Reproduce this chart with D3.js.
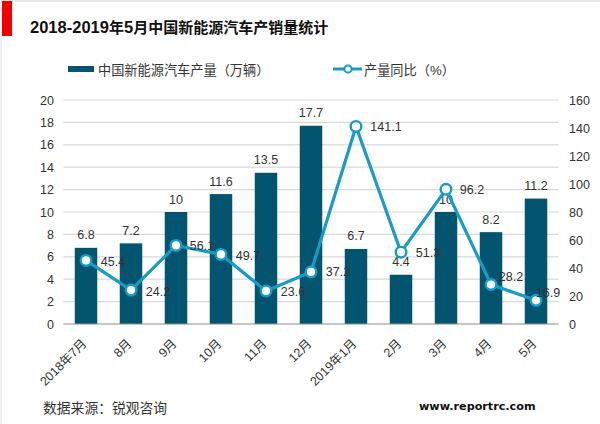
<!DOCTYPE html>
<html><head><meta charset="utf-8">
<script src="https://cdn.jsdelivr.net/npm/d3@7/dist/d3.min.js"></script>
<style>html,body{margin:0;padding:0;background:#fff}svg{display:block}text{font-family:"Liberation Sans","Noto Sans CJK SC",sans-serif}</style>
</head><body><svg id="c" width="600" height="424"></svg>
<script>
const categories=["2018年7月","8月","9月","10月","11月","12月","2019年1月","2月","3月","4月","5月"];
const output=[6.8,7.2,10,11.6,13.5,17.7,6.7,4.4,10,8.2,11.2];
const yoy=[45.4,24.2,56.1,49.7,23.6,37.2,141.1,51.3,96.2,28.2,16.9];
const leftTicks=[0,2,4,6,8,10,12,14,16,18,20];
const rightTicks=[0,20,40,60,80,100,120,140,160];
const yoyLabelOffsets=[[27,1],[27,1],[26,0],[27,1],[27,1],[27,0],[30,0],[27,0],[26,0],[20,-8],[12,-8]];
const titleParts=[["2018-2019",16.5],["年",15],["5",16.5],["月中国新能源汽车产销量统计",15]];
const svg=d3.select("#c");
const bar="#03556f",line="#169cc7",txt="#333",fs=12.5;
svg.append("rect").attr("x",0).attr("y",0).attr("width",600).attr("height",2).attr("fill","#e8e8e8");
svg.append("rect").attr("x",0).attr("y",0).attr("width",2).attr("height",424).attr("fill","#f0f0f0");
svg.append("rect").attr("x",2).attr("y",1).attr("width",10).attr("height",35).attr("fill","#f00000");
svg.append("text").attr("x",30).attr("y",33).attr("font-weight","bold").attr("fill","#111")
 .selectAll("tspan").data(titleParts).join("tspan").attr("font-size",d=>d[1]).text(d=>d[0]);
const x=d3.scaleBand().domain(categories).range([63.5,558.5]).paddingInner(0.5).paddingOuter(0.25);
const yL=d3.scaleLinear().domain([0,20]).range([324,100]);
const yR=d3.scaleLinear().domain([0,160]).range([324,100]);
const cx=d=>x(d)+x.bandwidth()/2;
// gridlines
svg.append("g").selectAll("line").data(leftTicks.slice(1)).join("line")
 .attr("x1",63.5).attr("x2",558.5).attr("y1",d=>yL(d)).attr("y2",d=>yL(d)).attr("stroke","#d9d9d9").attr("stroke-width",1.2);
// bars
svg.append("g").selectAll("rect").data(categories).join("rect")
 .attr("x",d=>x(d)).attr("width",x.bandwidth()).attr("y",(d,i)=>yL(output[i])).attr("height",(d,i)=>324-yL(output[i])).attr("fill",bar);
// baseline
svg.append("line").attr("x1",63.5).attr("x2",558.5).attr("y1",324).attr("y2",324).attr("stroke","#8c8c8c").attr("stroke-width",1);
// axes labels
const la=svg.append("g").attr("transform","translate(54,0)").call(d3.axisLeft(yL).tickValues(leftTicks).tickSize(0).tickPadding(0));
la.select(".domain").remove();
la.selectAll("text").attr("font-size",fs).attr("fill",txt).attr("font-family",null);
const ra=svg.append("g").attr("transform","translate(569,0)").call(d3.axisRight(yR).tickValues(rightTicks).tickSize(0).tickPadding(0));
ra.select(".domain").remove();
ra.selectAll("text").attr("font-size",fs).attr("fill",txt).attr("font-family",null);
// x labels
svg.append("g").selectAll("text").data(categories).join("text")
 .attr("transform",d=>`translate(${cx(d)-1.7},${341.2}) rotate(-45)`).attr("text-anchor","end").attr("font-size",fs).attr("fill",txt).attr("dy","0.35em").text(d=>d);
// bar labels
svg.append("g").selectAll("text").data(categories).join("text")
 .attr("x",d=>cx(d)).attr("y",(d,i)=>yL(output[i])-8.5).attr("text-anchor","middle").attr("font-size",fs).attr("fill",txt).text((d,i)=>output[i]);
// line
const gen=d3.line().x(d=>cx(d)).y((d,i)=>yR(yoy[i]));
svg.append("path").attr("d",gen(categories)).attr("fill","none").attr("stroke",line).attr("stroke-width",3.2).attr("stroke-linejoin","round");
svg.append("g").selectAll("circle").data(categories).join("circle")
 .attr("cx",d=>cx(d)).attr("cy",(d,i)=>yR(yoy[i])).attr("r",5.3).attr("fill","#fff").attr("stroke",line).attr("stroke-width",2.4);
// line labels
svg.append("g").selectAll("text").data(categories).join("text")
 .attr("x",(d,i)=>cx(d)+yoyLabelOffsets[i][0]).attr("y",(d,i)=>yR(yoy[i])+yoyLabelOffsets[i][1]+4.5).attr("text-anchor","middle").attr("font-size",fs).attr("fill",txt).text((d,i)=>yoy[i]);
// legend
svg.append("rect").attr("x",68).attr("y",66).attr("width",26).attr("height",6).attr("fill",bar);
svg.append("text").attr("x",98).attr("y",75).attr("font-size",13.2).attr("fill",txt).text("中国新能源汽车产量（万辆）");
svg.append("line").attr("x1",333).attr("x2",362).attr("y1",69).attr("y2",69).attr("stroke",line).attr("stroke-width",3);
svg.append("circle").attr("cx",348).attr("cy",69).attr("r",3.6).attr("fill","#fff").attr("stroke",line).attr("stroke-width",2);
svg.append("text").attr("x",364).attr("y",75).attr("font-size",13.2).attr("fill",txt).text("产量同比（%）");
// footer
svg.append("text").attr("x",43).attr("y",413).attr("font-size",13.8).attr("fill",txt).text("数据来源：锐观咨询");
svg.append("text").attr("x",419).attr("y",410).attr("font-size",11.2).attr("font-weight","bold").attr("fill","#111").attr("style","font-family:'DejaVu Sans'").text("www.reportrc.com");
</script></body></html>
